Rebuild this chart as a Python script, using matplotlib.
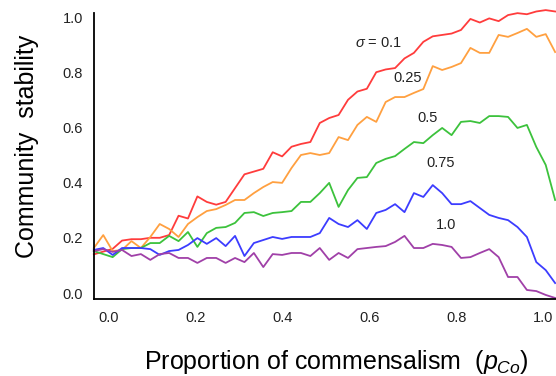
import numpy as np
import matplotlib
matplotlib.use('Agg')
import matplotlib.pyplot as plt

plt.rcParams['font.family'] = ['Liberation Sans', 'DejaVu Sans']
plt.rcParams['mathtext.fontset'] = 'custom'
plt.rcParams['mathtext.rm'] = 'Liberation Sans'
plt.rcParams['mathtext.it'] = 'Liberation Sans:italic'

# proportion of commensalism (curves start a bit left of 0.0)
p_co = np.linspace(-0.035, 1.028, 50)

s01 = [0.14, 0.15, 0.16, 0.19, 0.195, 0.195, 0.20, 0.20, 0.21, 0.28,
       0.27, 0.35, 0.33, 0.32, 0.33, 0.38, 0.43, 0.44, 0.45, 0.51,
       0.495, 0.53, 0.54, 0.547, 0.616, 0.634, 0.645, 0.70, 0.73, 0.74,
       0.80, 0.81, 0.815, 0.85, 0.87, 0.91, 0.93, 0.935, 0.94, 0.953,
       0.993, 0.98, 0.995, 0.985, 1.007, 1.014, 1.01, 1.02, 1.025, 1.02]
s025 = [0.163, 0.21, 0.152, 0.156, 0.188, 0.163, 0.203, 0.25, 0.232, 0.203,
        0.25, 0.275, 0.297, 0.304, 0.319, 0.337, 0.337, 0.362, 0.384, 0.402,
        0.399, 0.453, 0.50, 0.507, 0.50, 0.507, 0.565, 0.554, 0.609, 0.638,
        0.62, 0.692, 0.71, 0.71, 0.725, 0.739, 0.822, 0.808, 0.819, 0.833,
        0.888, 0.87, 0.87, 0.935, 0.928, 0.942, 0.957, 0.928, 0.938, 0.873]
s05 = [0.152, 0.141, 0.13, 0.159, 0.163, 0.163, 0.181, 0.181, 0.207, 0.188,
       0.221, 0.167, 0.217, 0.236, 0.239, 0.254, 0.29, 0.293, 0.279, 0.29,
       0.293, 0.297, 0.33, 0.33, 0.362, 0.399, 0.312, 0.373, 0.417, 0.42,
       0.471, 0.486, 0.496, 0.522, 0.547, 0.543, 0.572, 0.598, 0.572, 0.62,
       0.623, 0.616, 0.641, 0.641, 0.638, 0.598, 0.609, 0.529, 0.464, 0.337]
s075 = [0.156, 0.163, 0.138, 0.163, 0.163, 0.163, 0.159, 0.138, 0.152, 0.156,
        0.174, 0.199, 0.178, 0.199, 0.17, 0.207, 0.134, 0.181, 0.192, 0.203,
        0.196, 0.203, 0.203, 0.203, 0.217, 0.272, 0.25, 0.239, 0.264, 0.232,
        0.29, 0.301, 0.322, 0.293, 0.362, 0.348, 0.391, 0.362, 0.322, 0.322,
        0.333, 0.308, 0.283, 0.272, 0.264, 0.239, 0.203, 0.112, 0.083, 0.036]
s10 = [0.152, 0.159, 0.149, 0.156, 0.134, 0.141, 0.12, 0.141, 0.145, 0.127,
       0.127, 0.109, 0.127, 0.127, 0.109, 0.127, 0.112, 0.145, 0.094, 0.141,
       0.138, 0.145, 0.145, 0.134, 0.163, 0.12, 0.145, 0.127, 0.159, 0.163,
       0.167, 0.17, 0.185, 0.207, 0.163, 0.163, 0.178, 0.174, 0.167, 0.127,
       0.13, 0.145, 0.159, 0.13, 0.058, 0.058, 0.011, 0.007, -0.007, -0.018]

labels = ['$\\sigma$ = 0.1', '0.25', '0.5', '0.75', '1.0']
colors = ['#ff3c3c', '#ffa040', '#3cc23c', '#3c3cff', '#a040a8']
label_x = [0.622, 0.687, 0.733, 0.763, 0.776]
label_y = [0.906, 0.779, 0.634, 0.471, 0.246]

fig = plt.figure(figsize=(5.56, 3.76), dpi=100)
ax = fig.add_axes([94 / 556, 1 - 299 / 376, 462 / 556, 286 / 376])

for s, c in zip([s01, s025, s05, s075, s10], colors):
    ax.plot(p_co, s, color=c, lw=1.3, clip_on=False)

for lab, x, y in zip(labels, label_x, label_y):
    ax.text(x, y, lab, fontsize=10.5, color='#222222', ha='center', va='center')

ax.set_xlim(-0.0346, 1.03)
ax.set_ylim(-0.0217, 1.0145)
ax.set_xticks(np.arange(0, 1.01, 0.2))
ax.set_yticks(np.arange(0, 1.01, 0.2))
ax.set_xticklabels(['0.0', '0.2', '0.4', '0.6', '0.8', '1.0'])
ax.set_yticklabels(['0.0', '0.2', '0.4', '0.6', '0.8', '1.0'])
ax.tick_params(length=0, labelsize=10.5, labelcolor='#222222')
ax.tick_params(axis='x', pad=9)
ax.tick_params(axis='y', pad=8)

for side in ['top', 'right']:
    ax.spines[side].set_visible(False)
for side in ['left', 'bottom']:
    ax.spines[side].set_linewidth(1.3)
    ax.spines[side].set_color('black')

fig.text(336 / 556, 1 - 362 / 376, 'Proportion of commensalism  ($p_{Co}$)',
         fontsize=18, ha='center', va='center')
fig.text(27 / 556, 1 - 146 / 376, 'Community  stability', fontsize=18,
         rotation=90, ha='center', va='center')

fig.savefig('out.png', dpi=100)
